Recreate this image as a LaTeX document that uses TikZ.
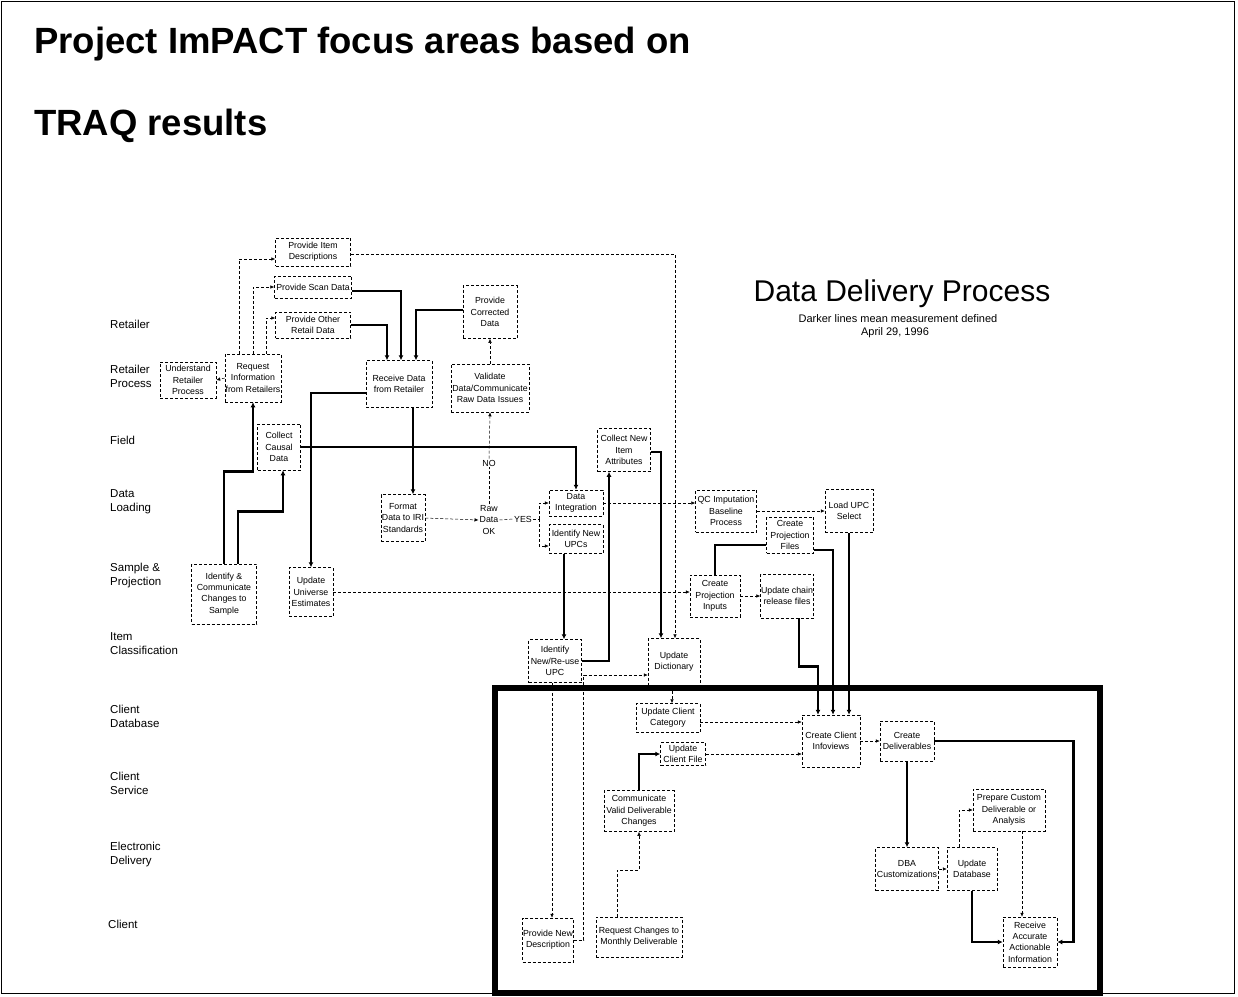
\documentclass[tikz,border=0pt]{standalone}
\usepackage{fontspec}
\setmainfont{Liberation Sans}
\usetikzlibrary{arrows.meta,calc}
\tikzset{
  bx/.style={draw, line width=0.5pt, dash pattern=on 3pt off 2pt, align=center,
    inner sep=0.5pt, font=\fontsize{8.8}{11.3}\selectfont},
  lbl/.style={align=left, anchor=west, font=\fontsize{11.5}{14}\selectfont, inner sep=0pt},
  thk/.style={line width=2.8pt, -{Latex[length=5pt,width=5pt]}},
  thkn/.style={line width=2.8pt},
  dsh/.style={line width=0.5pt, dash pattern=on 3pt off 2pt, -{Latex[length=4pt,width=3.5pt]}},
  dshn/.style={line width=0.5pt, dash pattern=on 3pt off 2pt},
  plain/.style={align=center, inner sep=1pt, font=\fontsize{8.8}{11.3}\selectfont}
}
\begin{document}
\begin{tikzpicture}[x=1pt,y=-1pt]
\useasboundingbox (0,0) rectangle (1238,996);
\fill[white] (0,0) rectangle (1238,996);
\draw[line width=1pt] (1.5,1.5) rectangle (1234,993);

% titles
\node[anchor=base west, inner sep=0pt, font=\fontsize{36.5}{40}\bfseries\selectfont] (t1) at (34,53) {Project ImPACT focus areas based on};
\node[anchor=base west, inner sep=0pt, font=\fontsize{36.5}{40}\bfseries\selectfont] (t2) at (34,135) {TRAQ results};
\node[inner sep=0pt, font=\fontsize{30}{34}\selectfont] (ddp) at (902,294) {Data Delivery Process};
\node[inner sep=0pt, font=\fontsize{11}{12}\selectfont] (dk) at (898,319) {Darker lines mean measurement defined};
\node[inner sep=0pt, font=\fontsize{11}{12}\selectfont] (apr) at (895,333) {April 29, 1996};

% lane labels
\node[lbl] (l1) at (110,324) {Retailer};
\node[lbl] (l2) at (110,376) {Retailer\\Process};
\node[lbl] (l3) at (110,440) {Field};
\node[lbl] (l4) at (110,502) {Data\\Loading};
\node[lbl] (l5) at (110,576) {Sample \&\\Projection};
\node[lbl] (l6) at (110,644) {Item\\Classification};
\node[lbl] (l7) at (110,716) {Client\\Database};
\node[lbl] (l8) at (110,783) {Client\\Service};
\node[lbl] (l9) at (110,855) {Electronic\\Delivery};
\node[lbl] (l10) at (108,924) {Client};

% big frame
\draw[line width=6pt] (495,688) rectangle (1100,993);

% boxes
\node[bx, minimum width=56, minimum height=36] (und) at (188,380) {Understand\\Retailer\\Process};
\node[bx, minimum width=55, minimum height=48] (req) at (253,378) {Request\\Information\\from Retailers};
\node[bx, minimum width=75, minimum height=28] (pid) at (313,252) {Provide Item\\Descriptions};
\node[bx, minimum width=77, minimum height=22] (psd) at (313,287) {Provide Scan Data};
\node[bx, minimum width=75, minimum height=26] (pod) at (313,325) {Provide Other\\Retail Data};
\node[bx, minimum width=66, minimum height=47] (recv) at (399,384) {Receive Data\\from Retailer};
\node[bx, minimum width=54, minimum height=53] (pcd) at (490,312) {Provide\\Corrected\\Data};
\node[bx, minimum width=78, minimum height=48] (val) at (490,388) {Validate\\Data/Communicate\\Raw Data Issues};
\node[bx, minimum width=43, minimum height=46] (ccd) at (279,447) {Collect\\Causal\\Data};
\node[bx, minimum width=44, minimum height=47] (fmt) at (403,518) {Format\\Data to IRI\\Standards};
\node[plain] (raw) at (489,520) {Raw\\Data\\OK};
\node[plain, fill=white] (no) at (489,463) {NO};
\node[plain] (yes) at (523,519) {YES};
\node[bx, minimum width=54, minimum height=26] (di) at (576,503) {Data\\Integration};
\node[bx, minimum width=54, minimum height=29] (inu) at (576,539) {Identify New\\UPCs};
\node[bx, minimum width=53, minimum height=43] (cni) at (624,450) {Collect New\\Item\\Attributes};
\node[bx, minimum width=65, minimum height=60] (icc) at (224,594) {Identify \&\\Communicate\\Changes to\\Sample};
\node[bx, minimum width=44, minimum height=49] (uue) at (311,592) {Update\\Universe\\Estimates};
\node[bx, minimum width=53, minimum height=43] (inr) at (555,661) {Identify\\New/Re-use\\UPC};
\node[bx, minimum width=52, minimum height=47] (udi) at (674,662) {Update\\Dictionary};
\node[bx, minimum width=61, minimum height=42] (qc) at (726,511) {QC Imputation\\Baseline\\Process};
\node[bx, minimum width=48, minimum height=43] (lus) at (849,511) {Load UPC\\Select};
\node[bx, minimum width=47, minimum height=36, fill=white] (cpf) at (790,535) {Create\\Projection\\Files};
\node[bx, minimum width=50, minimum height=42] (cpi) at (715,596) {Create\\Projection\\Inputs};
\node[bx, minimum width=53, minimum height=44] (ucr) at (787,596) {Update chain\\release files};
\node[bx, minimum width=64, minimum height=29] (ucc) at (668,718) {Update Client\\Category};
\node[bx, minimum width=45, minimum height=23] (ucf) at (683,754) {Update\\Client File};
\node[bx, minimum width=70, minimum height=41] (cvd) at (639,811) {Communicate\\Valid Deliverable\\Changes};
\node[bx, minimum width=58, minimum height=52] (cci) at (831,741) {Create Client\\Infoviews};
\node[bx, minimum width=54, minimum height=40] (cdl) at (907,741) {Create\\Deliverables};
\node[bx, minimum width=72, minimum height=42] (pca) at (1009,810) {Prepare Custom\\Deliverable or\\Analysis};
\node[bx, minimum width=63, minimum height=43] (dba) at (907,869) {DBA\\Customizations};
\node[bx, minimum width=50, minimum height=43] (udb) at (972,869) {Update\\Database};
\node[bx, minimum width=54, minimum height=50] (raa) at (1030,942) {Receive\\Accurate\\Actionable\\Information};
\node[bx, minimum width=49, minimum height=44] (pnd) at (548,940) {Provide New\\Description};
\node[bx, minimum width=86, minimum height=40] (rcm) at (639,937) {Request Changes to\\Monthly Deliverable};

% thick connectors
\draw[thk] ([yshift=-4pt]psd.east) -| ([xshift=2pt]recv.north);
\draw[thk] (pod.east) -| ([xshift=-12pt]recv.north);
\draw[thk] ([yshift=2pt]pcd.west) -| ([xshift=17pt]recv.north);
\coordinate (d1) at ([xshift=14pt]recv.south);
\draw[thk] (d1) -- (d1 |- fmt.north);
\draw[thk] ([yshift=-9pt]recv.west) -| (uue.north);
\draw[thk] (icc.north) -- ++(0,-92) -| (req.south);
\draw[thk] ([xshift=14pt]icc.north) -- ++(0,-52) -| ([xshift=4pt]ccd.south);
\draw[thk] (ccd.east) -| (di.north);
\coordinate (c1) at ([xshift=-12pt]inu.south);
\draw[thk] (c1) -- (c1 |- inr.north);
\draw[thk] (inr.east) -| ([xshift=-15pt]cni.south);
\draw[thk] ([yshift=-2pt]cni.east) -| ([xshift=-13pt]udi.north);
\draw[thkn] ([yshift=-10pt]cpf.west) -| (cpi.north);
\draw[thk] ([yshift=-15pt]cpf.east) -| ([xshift=2pt]cci.north);
\draw[thk] (lus.south) -- (lus.south |- cci.north);
\draw[thk] ([xshift=12pt]ucr.south) -- ++(0,48) -| ([xshift=-13pt]cci.north);
\draw[thk] (cvd.north) |- (ucf.west);
\draw[thk] (cdl.east) -- ++(139,0) |- (raa.east);
\draw[thk] (cdl.south) -- (dba.north);
\draw[thk] (udb.south) |- (raa.west);

% dashed connectors
\draw[dsh] ([xshift=-14pt]req.north) |- ([yshift=-7pt]pid.west);
\draw[dsh] (req.north) |- (psd.west);
\draw[dsh] ([xshift=13pt]req.north) |- ([yshift=7pt]pod.west);
\draw[dsh] (req.west) -- (und.east);
\draw[dsh] ([yshift=-2pt]pid.east) -| ([xshift=1pt]udi.north);
\draw[dsh] (val.north) -- (pcd.south);
\draw[dshn] (raw.north) -- (no.south);
\draw[dsh] (no.north) -- (val.south);
\draw[dsh] (fmt.east) -- (raw.west);
\draw[dshn] (raw.east) -- (yes.west);
\coordinate (yj) at (539,519);
\draw[dshn] (yes.east) -- (yj);
\draw[dsh] (yj) |- (di.west);
\draw[dsh] (yj) |- ([yshift=-7pt]inu.west);
\draw[dsh] (di.east) -- (di.east -| qc.west);
\draw[dsh] (qc.east) -- (lus.west);
\draw[dsh] (uue.east) -- (uue.east -| cpi.west);
\draw[dsh] (cpi.east) -- (ucr.west);
\draw[dsh] (pnd.east) -- ++(10,0) |- ([yshift=-13pt]udi.west);
\coordinate (c2) at ([xshift=-3pt]inr.south);
\draw[dsh] (c2) -- (c2 |- pnd.north);
\coordinate (c3) at ([xshift=-2pt]udi.south);
\draw[dsh] (c3) -- (c3 |- ucc.north);
\draw[dsh] ([yshift=-4pt]ucc.east) -- ([yshift=-4pt]ucc.east -| cci.west);
\draw[dsh] (ucf.east) -- (ucf.east -| cci.west);
\draw[dsh] (cci.east) -- (cdl.west);
\coordinate (c4) at ([xshift=13pt]pca.south);
\draw[dsh] (c4) -- (c4 |- raa.north);
\draw[dsh] ([xshift=-13pt]udb.north) |- (pca.west);
\draw[dsh] (dba.east) -- (udb.west);
\draw[dsh] ([xshift=-22pt]rcm.north) -- ++(0,-47) -| (cvd.south);
\end{tikzpicture}
\end{document}
